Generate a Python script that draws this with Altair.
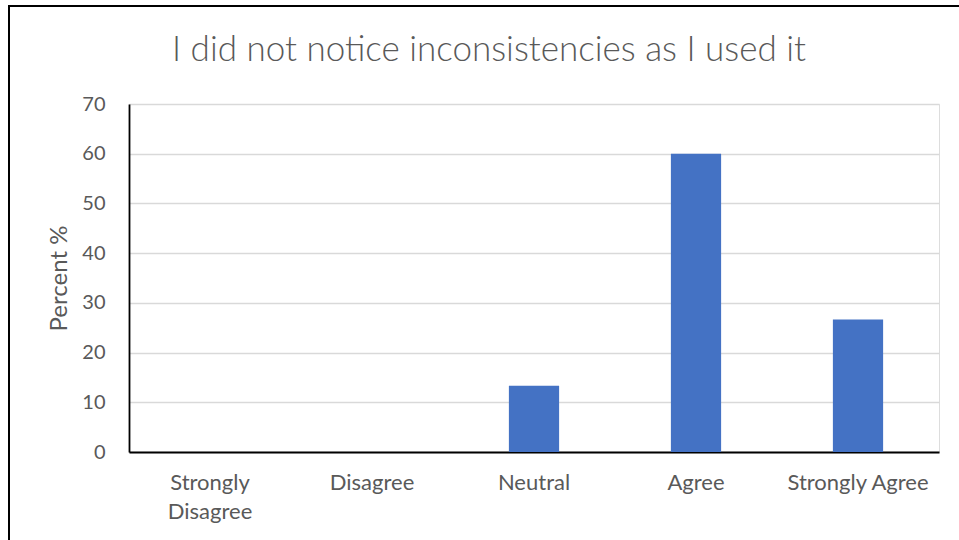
import altair as alt
import pandas as pd

# Survey responses, share of respondents per answer
categories = ["Strongly Disagree", "Disagree", "Neutral", "Agree", "Strongly Agree"]
percents = [0, 0, 13.33, 60, 26.67]
y_ticks = [0, 10, 20, 30, 40, 50, 60, 70]
chart_title = "I did not notice inconsistencies as I used it"

df = pd.DataFrame({"answer": categories, "percent": percents})

FONT = "Lato"
GREY = "#595959"

bars = alt.Chart(df).mark_bar(color="#4472C4").encode(
    x=alt.X(
        "answer:N",
        sort=categories,
        title=None,
        scale=alt.Scale(paddingInner=0.69, paddingOuter=0.345),
        axis=alt.Axis(
            labelAngle=0,
            labelFont=FONT,
            labelFontSize=22,
            labelColor=GREY,
            labelPadding=20,
            labelLineHeight=29,
            labelExpr="datum.label == 'Strongly Disagree' ? ['Strongly', 'Disagree'] : datum.label",
            ticks=False,
            domainColor="#000000",
            domainWidth=1.8,
        ),
    ),
    y=alt.Y(
        "percent:Q",
        title="Percent %",
        scale=alt.Scale(domain=[0, 70], nice=False),
        axis=alt.Axis(
            values=y_ticks,
            labelFont=FONT,
            labelFontSize=20,
            labelColor=GREY,
            labelPadding=24,
            ticks=False,
            domain=True,
            domainColor="#000000",
            domainWidth=1.8,
            grid=True,
            gridColor="#d9d9d9",
            gridWidth=1.5,
            titleFont=FONT,
            titleFontSize=24,
            titleFontWeight="normal",
            titleColor=GREY,
            titlePadding=10,
        ),
    ),
)

# Outer chart frame
frame = alt.Chart(df).mark_rect(
    fill=None, stroke="#000000", strokeWidth=2, clip=False
).encode(
    x=alt.value(-120),
    x2=alt.value(900),
    y=alt.value(-98),
    y2=alt.value(520),
)

# Chart heading, placed above the plot area
heading = alt.Chart(pd.DataFrame({"t": [chart_title]})).mark_text(
    font=FONT,
    fontSize=35,
    fontWeight=300,
    color=GREY,
    align="center",
    baseline="alphabetic",
    clip=False,
).encode(
    text="t:N",
    x=alt.value(360),
    y=alt.value(-43),
)

chart = alt.layer(bars, frame, heading).properties(
    width=810,
    height=348,
    autosize=alt.AutoSizeParams(type="none"),
    padding={"left": 129, "top": 104, "right": 20, "bottom": 88},
).configure_view(stroke=None).configure(background="white")

chart.save("out.html", embed_options={"renderer": "svg", "actions": False})
